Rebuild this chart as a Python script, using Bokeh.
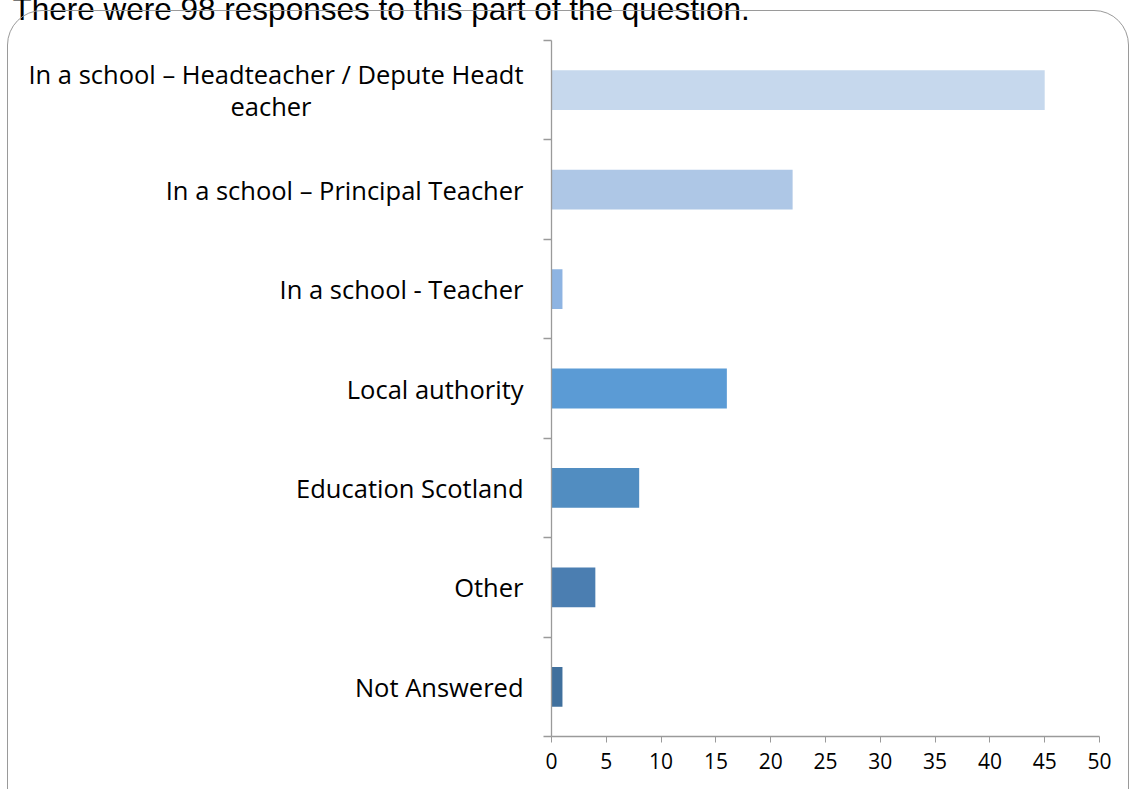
from bokeh.plotting import figure
from bokeh.models import Range1d, FixedTicker, GlobalInlineStyleSheet
from bokeh.embed import file_html
from bokeh.resources import INLINE

NB = "\u00a0"
categories = [
    "In a school \u2013 Headteacher / Depute Headt\neacher" + NB * 32,
    "In a school \u2013 Principal Teacher",
    "In a school - Teacher",
    "Local authority",
    "Education Scotland",
    "Other",
    "Not Answered",
]
values = [45, 22, 1, 16, 8, 4, 1]
colors = ["#C6D8ED", "#AEC7E6", "#8EB4E2", "#5B9BD5", "#518DC1", "#4B7EB1", "#40709D"]
x_ticks = [0, 5, 10, 15, 20, 25, 30, 35, 40, 45, 50]
header = "There were 98 responses to this part of the question."

n = len(categories)
centers = [n - 0.5 - i for i in range(n)]

SHIFT = 26  # canvas starts above the window so the header is cut like the reference
W, H = 1132, 789 + SHIFT
FRAME_LEFT = 551
p = figure(width=W, height=H, output_backend="svg", toolbar_location=None,
           x_range=Range1d(0, 50), y_range=Range1d(0, n),
           min_border_left=FRAME_LEFT, min_border_right=33,
           min_border_top=40 + SHIFT, min_border_bottom=53)
css = (
    "html { margin: 0 !important; padding: 0; overflow: hidden; }"
    "body { margin: 0 !important; padding: 0; overflow: visible !important;"
    " height: auto !important; transform: translateY(-%dpx); }"
    "body::after { content: ''; position: fixed; left: 7px; top: %dpx; width: 1122px;"
    " height: 830px; border: 1.2px solid #9a9a9a; border-radius: 35px;"
    " box-sizing: border-box; pointer-events: none; }" % (SHIFT, 10 + SHIFT)
)
p.stylesheets = [GlobalInlineStyleSheet(css=css)]
p.outline_line_color = None
p.xgrid.grid_line_color = None
p.ygrid.grid_line_color = None

p.title.text = header
p.title.text_font = "Liberation Sans"
p.title.text_font_size = "31.5px"
p.title.text_font_style = "normal"
p.title.text_color = "#000000"
p.title.align = "left"
p.title.offset = 12 - FRAME_LEFT
p.title.standoff = 28

p.hbar(y=centers, left=0, right=values, height=0.4, fill_color=colors, line_color=None)

FONT = "Open Sans"
ax = p.xaxis[0]
ax.ticker = FixedTicker(ticks=x_ticks, minor_ticks=[])
ax.axis_line_color = "#9a9a9a"
ax.axis_line_width = 1.3
ax.major_tick_line_color = "#9a9a9a"
ax.major_tick_in = 0
ax.major_tick_out = 6
ax.minor_tick_line_color = None
ax.major_label_text_font = FONT
ax.major_label_text_font_size = "21px"
ax.major_label_text_color = "#000000"
ax.major_label_standoff = 10

ay = p.yaxis[0]
ay.ticker = FixedTicker(ticks=centers, minor_ticks=list(range(n + 1)))
ay.major_label_overrides = {c: lab for c, lab in zip(centers, categories)}
ay.axis_line_color = "#9a9a9a"
ay.axis_line_width = 1.3
ay.major_tick_line_color = None
ay.major_tick_in = 0
ay.major_tick_out = 0
ay.minor_tick_line_color = "#9a9a9a"
ay.minor_tick_line_width = 1.3
ay.minor_tick_in = 0
ay.minor_tick_out = 8
ay.major_label_text_font = FONT
ay.major_label_text_font_size = "25.5px"
ay.major_label_text_line_height = 0.95
ay.major_label_text_color = "#000000"
ay.major_label_standoff = 20

open("out.html", "w").write(file_html(p, INLINE))
